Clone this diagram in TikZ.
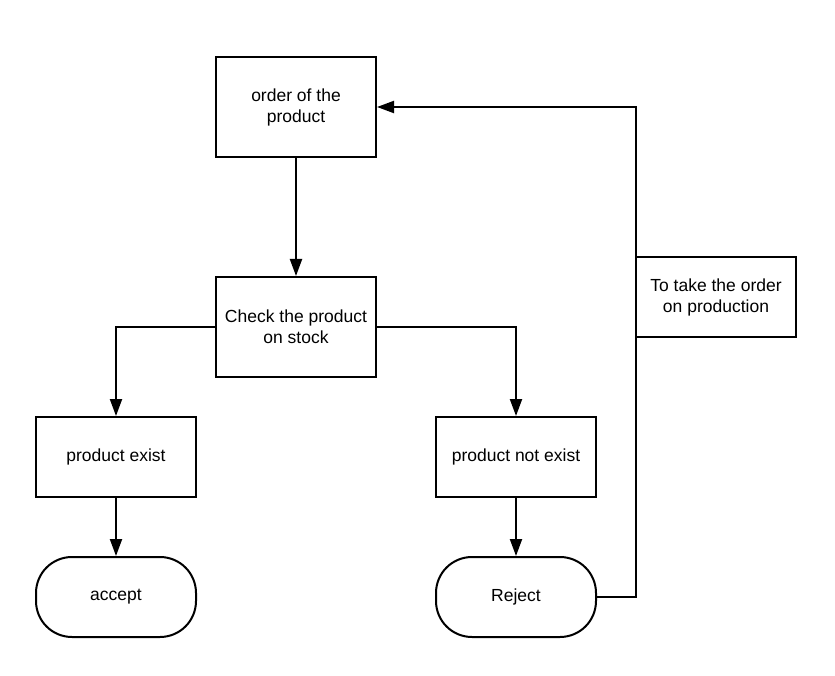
\documentclass[tikz,border=0pt]{standalone}
\usepackage{fontspec}
\setmainfont{Liberation Sans}
\usetikzlibrary{arrows.meta}
\begin{document}
\begin{tikzpicture}[x=1pt,y=-1pt,
  every node/.style={font=\fontsize{17.5pt}{21pt}\selectfont, align=center},
  procbox/.style={draw, line width=2pt, minimum width=160pt, minimum height=100pt, inner sep=0pt},
  smallbox/.style={procbox, minimum height=80pt},
  termbox/.style={draw, line width=2pt, minimum width=160pt, minimum height=80pt, inner sep=0pt, rounded corners=36pt},
  link/.style={line width=2pt, -{Triangle[length=17pt,width=12pt]}},
  plain/.style={line width=2pt}]
  \useasboundingbox (0,0) rectangle (835,676);
  \node[procbox] (order) at (296,107) {order of the\\product};
  \node[procbox] (check) at (296,327) {Check the product\\on stock};
  \node[smallbox] (exist) at (116,457) {product exist};
  \node[smallbox] (notexist) at (516,457) {product not exist};
  \node[termbox] (accept) at (116,597) {accept};
  \node[termbox] (reject) at (516,597) {Reject};
  \coordinate (turn) at (636,597);
  \draw[link] (order) -- (check);
  \draw[link] (check.west) -| (exist.north);
  \draw[link] (check.east) -| (notexist.north);
  \draw[link] (exist) -- (accept);
  \draw[link] (notexist) -- (reject);
  \draw[link] (reject.east) -- (turn) |- (order.east);
  \node[smallbox, fill=white] (production) at (716,297) {To take the order\\on production};
\end{tikzpicture}
\end{document}
